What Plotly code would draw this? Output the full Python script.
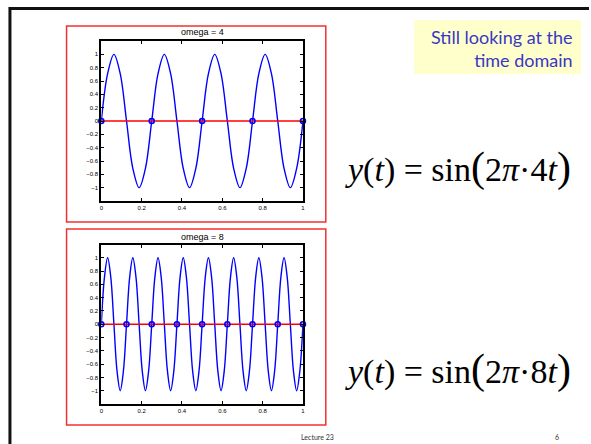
import plotly.graph_objects as go

W, H = 591, 444

# ---- data ----
t_fine4 = [i / 32 for i in range(33)]
y_fine4 = [0, 0.71, 1, 0.71, 0, -0.71, -1, -0.71,
           0, 0.71, 1, 0.71, 0, -0.71, -1, -0.71,
           0, 0.71, 1, 0.71, 0, -0.71, -1, -0.71,
           0, 0.71, 1, 0.71, 0, -0.71, -1, -0.71, 0]
t_samp4 = [0, 0.25, 0.5, 0.75, 1]
y_samp4 = [0, 0, 0, 0, 0]

t_fine8 = [i / 64 for i in range(65)]
y_fine8 = [0, 0.71, 1, 0.71, 0, -0.71, -1, -0.71,
           0, 0.71, 1, 0.71, 0, -0.71, -1, -0.71,
           0, 0.71, 1, 0.71, 0, -0.71, -1, -0.71,
           0, 0.71, 1, 0.71, 0, -0.71, -1, -0.71,
           0, 0.71, 1, 0.71, 0, -0.71, -1, -0.71,
           0, 0.71, 1, 0.71, 0, -0.71, -1, -0.71,
           0, 0.71, 1, 0.71, 0, -0.71, -1, -0.71,
           0, 0.71, 1, 0.71, 0, -0.71, -1, -0.71, 0]
t_samp8 = [0, 0.125, 0.25, 0.375, 0.5, 0.625, 0.75, 0.875, 1]
y_samp8 = [0, 0, 0, 0, 0, 0, 0, 0, 0]

titles = ["omega = 4", "omega = 8"]
x_ticks = [0, 0.2, 0.4, 0.6, 0.8, 1]
y_ticks = [-1, -0.8, -0.6, -0.4, -0.2, 0, 0.2, 0.4, 0.6, 0.8, 1]


def px(x):
    return x / W


def py(y):
    return 1 - y / H


fig = go.Figure()

BLUE = "#0000ff"
RED = "#ff0000"

for i, (tf, yf, ts, ys) in enumerate([(t_fine4, y_fine4, t_samp4, y_samp4),
                                     (t_fine8, y_fine8, t_samp8, y_samp8)]):
    xa = "x" if i == 0 else "x2"
    ya = "y" if i == 0 else "y2"
    fig.add_trace(go.Scatter(x=tf, y=yf, mode="lines", xaxis=xa, yaxis=ya,
                             line=dict(color=BLUE, width=1.4, shape="spline", smoothing=1.0),
                             hoverinfo="skip", showlegend=False))
    fig.add_trace(go.Scatter(x=ts, y=ys, mode="lines+markers", xaxis=xa, yaxis=ya,
                             line=dict(color=RED, width=1.6),
                             marker=dict(symbol="circle-open", size=5, color=BLUE,
                                         line=dict(color=BLUE, width=1.6)),
                             cliponaxis=False,
                             hoverinfo="skip", showlegend=False))

axis_common = dict(showline=True, linecolor="black", linewidth=2, mirror="ticks",
                   ticks="inside", ticklen=3, tickwidth=1, tickcolor="black",
                   showgrid=False, zeroline=False,
                   tickfont=dict(family="Liberation Sans, Arial", size=6, color="black"))

left, right = 100, 303
fig.update_layout(
    width=W, height=H,
    margin=dict(l=0, r=0, t=0, b=0),
    paper_bgcolor="white", plot_bgcolor="white",
    xaxis=dict(domain=[px(left), px(right)], range=[0, 1], tickvals=x_ticks,
               anchor="y", **axis_common),
    yaxis=dict(domain=[py(201), py(41)], range=[-1.2, 1.2], tickvals=y_ticks,
               anchor="x", **axis_common),
    xaxis2=dict(domain=[px(left), px(right)], range=[0, 1], tickvals=x_ticks,
                anchor="y2", **axis_common),
    yaxis2=dict(domain=[py(404), py(244.5)], range=[-1.2, 1.2], tickvals=y_ticks,
                anchor="x2", **axis_common),
)

shapes = []
# slide frame
shapes.append(dict(type="line", xref="paper", yref="paper", x0=px(7), x1=px(591),
                   y0=py(8.5), y1=py(8.5), line=dict(color="#111111", width=3)))
shapes.append(dict(type="line", xref="paper", yref="paper", x0=px(8), x1=px(8),
                   y0=py(7), y1=py(444), line=dict(color="#111111", width=3)))
# red figure boxes
for (x0, y0, x1, y1) in [(65, 26, 326, 222), (65, 229, 326, 425)]:
    shapes.append(dict(type="rect", xref="paper", yref="paper",
                       x0=px(x0), x1=px(x1), y0=py(y1), y1=py(y0),
                       line=dict(color="#f23030", width=1.5)))
# yellow box
shapes.append(dict(type="rect", xref="paper", yref="paper",
                   x0=px(415), x1=px(583), y0=py(74), y1=py(20),
                   fillcolor="#ffffcc", line=dict(width=0), layer="below"))
fig.update_layout(shapes=shapes)

ann = []
for title, yy in zip(titles, [32.5, 237]):
    ann.append(dict(text=title, xref="paper", yref="paper", x=px((left + right) / 2), y=py(yy),
                    showarrow=False, xanchor="center", yanchor="middle",
                    font=dict(family="Liberation Sans, Arial", size=9, color="black")))

ann.append(dict(text="Still looking at the<br>time domain", xref="paper", yref="paper",
                x=px(577), y=py(49), xanchor="right", yanchor="middle", align="right",
                showarrow=False,
                font=dict(family="Lato, Open Sans", size=18, color="#3838c4")))

for d, yy in zip(["4", "8"], [167, 369]):
    txt = ("<i>y</i>(<i>t</i>) = sin<span style='font-size:42px'>(</span>2<i>π</i>·"
           + d + "<i>t</i><span style='font-size:42px'>)</span>")
    ann.append(dict(text=txt, xref="paper", yref="paper", x=px(459), y=py(yy),
                    xanchor="center", yanchor="middle", showarrow=False,
                    font=dict(family="Liberation Serif, Times New Roman", size=34, color="black")))

ann.append(dict(text="Lecture 23", xref="paper", yref="paper", x=px(318), y=py(437),
                xanchor="center", yanchor="middle", showarrow=False,
                font=dict(family="Lato, DejaVu Sans", size=7, color="#333333")))
ann.append(dict(text="6", xref="paper", yref="paper", x=px(559), y=py(437),
                xanchor="center", yanchor="middle", showarrow=False,
                font=dict(family="Lato, DejaVu Sans", size=7, color="#333333")))
fig.update_layout(annotations=ann)

fig.write_html("out.html",
               config={"displayModeBar": False},
               post_script="document.body.style.margin='0';"
                           "document.body.style.overflow='hidden';"
                           "document.documentElement.style.overflow='hidden';")
